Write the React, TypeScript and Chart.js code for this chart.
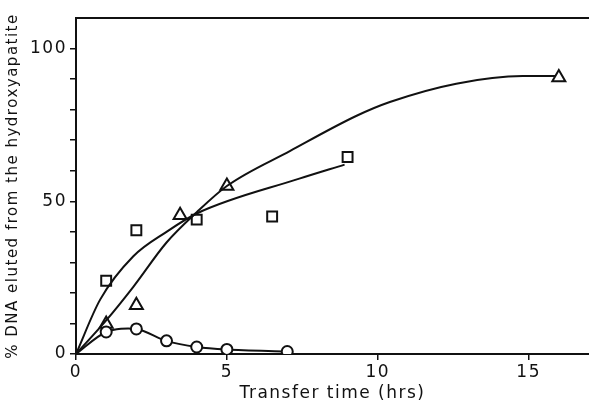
import React, { useEffect, useRef } from "react";
import { Chart, registerables } from "chart.js";

Chart.register(...registerables);

// Observed markers
const squareX = [1, 2, 4, 6.5, 9];
const squareY = [24, 40.5, 44, 45, 64.5];
const triangleX = [1, 2, 3.45, 5, 16];
const triangleY = [9.8, 16, 45.4, 55, 90.5];
const circleX = [0, 1, 2, 3, 4, 5, 7];
const circleY = [0, 7.2, 8.2, 4.3, 2.3, 1.5, 0.8];

// Hand-drawn fitted curves
const squareCurveX = [0, 0.8, 1.9, 3, 4, 7.4, 8.9];
const squareCurveY = [0, 17.8, 32, 40, 46, 57.4, 62];
const triangleCurveX = [0, 1, 1.9, 3, 4, 5, 7.1, 9.3, 10.4, 12.6, 14.8, 15.9];
const triangleCurveY = [0, 11, 22, 36.5, 46.4, 55, 66.5, 78, 82.5, 88.5, 91, 91];

const xTicks = [0, 5, 10, 15];
const yMajorTicks = [0, 50, 100];
const yAxisTitle = "% DNA eluted from the hydroxyapatite";
const xAxisTitle = "Transfer time (hrs)";

const pts = (xs: number[], ys: number[]) => xs.map((x, i) => ({ x, y: ys[i] }));

const spacingPlugin = {
  id: "spacing",
  beforeDraw(chart: any) {
    chart.ctx.letterSpacing = "1.5px";
  },
};

export default function App() {
  const ref = useRef<HTMLCanvasElement>(null);
  useEffect(() => {
    if (!ref.current) return;
    const family = "DejaVu Sans";
    const ink = "#111";
    const chart = new Chart(ref.current, {
      type: "scatter",
      plugins: [spacingPlugin],
      data: {
        datasets: [
          {
            data: pts(squareCurveX, squareCurveY),
            showLine: true,
            pointRadius: 0,
            borderColor: ink,
            borderWidth: 2,
            cubicInterpolationMode: "monotone",
          },
          {
            data: pts(triangleCurveX, triangleCurveY),
            showLine: true,
            pointRadius: 0,
            borderColor: ink,
            borderWidth: 2,
            cubicInterpolationMode: "monotone",
          },
          {
            data: pts(circleX, circleY),
            showLine: true,
            tension: 0.3,
            pointStyle: "circle",
            pointRadius: circleX.map((_, i) => (i === 0 ? 0 : 5.5)),
            pointBorderWidth: 2,
            pointBackgroundColor: "#fff",
            pointBorderColor: ink,
            borderColor: ink,
            borderWidth: 2,
          },
          {
            data: pts(squareX, squareY),
            showLine: false,
            pointStyle: "rect",
            pointRadius: 7,
            pointBorderWidth: 2,
            pointBackgroundColor: "#fff",
            pointBorderColor: ink,
          },
          {
            data: pts(triangleX, triangleY),
            showLine: false,
            pointStyle: "triangle",
            pointRadius: 7.5,
            pointBorderWidth: 2,
            pointBackgroundColor: "#fff",
            pointBorderColor: ink,
          },
        ],
      },
      options: {
        animation: false,
        responsive: false,
        devicePixelRatio: 1,
        layout: { autoPadding: false, padding: { top: 18, right: 0, left: 0, bottom: 0 } },
        plugins: { legend: { display: false }, tooltip: { enabled: false } },
        scales: {
          x: {
            type: "linear",
            min: 0,
            max: 17,
            afterFit: (s: any) => { s.height = 53; s.paddingLeft = 0; s.paddingRight = 0; },
            afterBuildTicks: (s: any) => { s.ticks = xTicks.map((v) => ({ value: v })); },
            ticks: { color: ink, font: { family, size: 17 }, padding: 2, includeBounds: false },
            grid: { drawOnChartArea: false, drawTicks: true, tickLength: 6, color: ink, lineWidth: 1.5 },
            border: { display: true, color: ink, width: 2 },
            title: { display: true, text: xAxisTitle, color: ink, font: { family, size: 17 }, padding: { top: 0, bottom: 3 } },
          },
          x2: {
            type: "linear",
            position: "top",
            min: 0,
            max: 17,
            afterFit: (s: any) => { s.height = 0; s.paddingLeft = 0; s.paddingRight = 0; },
            ticks: { display: false },
            grid: { display: false },
            border: { display: true, color: ink, width: 2 },
          },
          y: {
            type: "linear",
            min: 0,
            max: 110,
            afterFit: (s: any) => { s.width = 76; s.paddingTop = 0; s.paddingBottom = 0; },
            afterBuildTicks: (s: any) => {
              const t = [];
              for (let v = 0; v <= 100; v += 10) t.push({ value: v });
              s.ticks = t;
            },
            ticks: {
              color: ink,
              font: { family, size: 17 },
              padding: 3,
              callback: (v: any) => (yMajorTicks.includes(Number(v)) ? String(v) : ""),
            },
            grid: { drawOnChartArea: false, drawTicks: true, tickLength: 6, color: ink, lineWidth: 1.5 },
            border: { display: true, color: ink, width: 2 },
            title: { display: true, text: yAxisTitle, color: ink, font: { family, size: 15 }, padding: { top: 4, bottom: 0 } },
          },
        },
      },
    } as any);
    return () => chart.destroy();
  }, []);
  return (
    <div style={{ position: "fixed", left: 0, top: 0, width: 589, height: 407, background: "#fff" }}>
      <canvas ref={ref} width={589} height={407} />
    </div>
  );
}
